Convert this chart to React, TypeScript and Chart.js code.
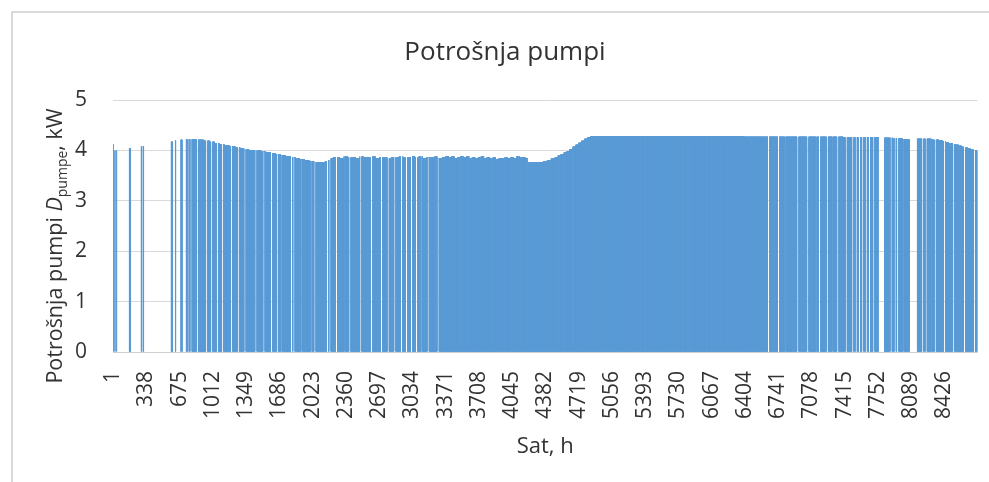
import React, { useEffect, useRef } from 'react';
import { Chart, registerables } from 'chart.js';

Chart.register(...registerables);

// ---------- data ----------
const HOURS = 8760;
const TICK_STEP = 337;
const chartTitle = 'Potrošnja pumpi';
const xTitle = 'Sat, h';
const yTitleMain = 'Potrošnja pumpi ';
const yTitleSymbol = 'D';
const yTitleSub = 'pumpe';
const yTitleUnit = ', kW';

// hourly pump power levels (kW): level holds from the given hour on
const levelStart = [
  1, 10, 100, 250, 500, 620, 680, 740, 860, 920, 980, 1030, 1080, 1130, 1180, 1240, 1290, 1330,
  1380, 1420, 1500, 1550, 1600, 1650, 1700, 1750, 1800, 1850, 1890, 1940, 1990, 2040, 2100, 2150,
  2175, 2200, 2230, 2260, 2300, 2340, 2380, 2420, 2460, 2500, 2540, 2580, 2620, 2660, 2700, 2740,
  2780, 2820, 2860, 2900, 2940, 2980, 3020, 3060, 3100, 3140, 3180, 3220, 3260, 3300, 3340, 3370,
  3400, 3430, 3460, 3490, 3520, 3550, 3580, 3610, 3640, 3670, 3700, 3730, 3760, 3790, 3820, 3850,
  3880, 3910, 3940, 3970, 4000, 4030, 4060, 4090, 4120, 4150, 4180, 4200, 4260, 4320, 4360, 4400,
  4440, 4480, 4510, 4540, 4570, 4600, 4630, 4660, 4690, 4720, 4750, 4780, 4810, 4840, 6400, 7000,
  7400, 7760, 7900, 8000, 8150, 8300, 8370, 8410, 8440, 8470, 8510, 8545, 8570, 8600, 8630, 8660,
  8690, 8720, 8745,
];
const levelValue = [
  4.12, 4.0, 4.05, 4.08, 4.17, 4.2, 4.21, 4.22, 4.21, 4.19, 4.17, 4.14, 4.12, 4.1, 4.08, 4.06, 4.04, 4.02,
  4.01, 4.0, 3.99, 3.97, 3.95, 3.93, 3.91, 3.89, 3.87, 3.85, 3.83, 3.81, 3.79, 3.77, 3.76, 3.78,
  3.81, 3.84, 3.86, 3.87, 3.85, 3.88, 3.86, 3.87, 3.85, 3.88, 3.87, 3.86, 3.88, 3.85, 3.87, 3.86,
  3.84, 3.87, 3.86, 3.88, 3.86, 3.87, 3.89, 3.86, 3.88, 3.85, 3.87, 3.86, 3.88, 3.85, 3.87, 3.89,
  3.86, 3.88, 3.85, 3.87, 3.89, 3.86, 3.88, 3.85, 3.87, 3.84, 3.86, 3.88, 3.85, 3.87, 3.84, 3.86,
  3.83, 3.85, 3.84, 3.86, 3.85, 3.87, 3.85, 3.88, 3.86, 3.87, 3.85, 3.76, 3.76, 3.77, 3.79, 3.81,
  3.84, 3.87, 3.9, 3.93, 3.96, 3.99, 4.03, 4.07, 4.11, 4.15, 4.19, 4.23, 4.26, 4.28, 4.27, 4.27,
  4.26, 4.25, 4.24, 4.22, 4.23, 4.21, 4.2, 4.18, 4.16, 4.14, 4.12, 4.11, 4.09, 4.07, 4.06, 4.04,
  4.02, 4.01, 4.0,
];

// hours when the pump is off (first hour, last hour)
const offRanges: [number, number][] = [
  [5, 18], [23, 35], [40, 164], [181, 285], [291, 304], [313, 589], [607, 631], [638, 687],
  [703, 741], [755, 769],
  [783, 799], [847, 863], [942, 958], [993, 1009], [1050, 1066], [1104, 1120], [1195, 1211],
  [1262, 1278], [1330, 1346], [1441, 1457], [1522, 1538], [1600, 1616], [1657, 1673], [1705, 1713],
  [1803, 1819], [1826, 1842], [1908, 1916], [2009, 2017], [2039, 2055], [2167, 2183], [2191, 2207],
  [2258, 2274], [2346, 2354], [2393, 2409], [2504, 2520], [2613, 2629], [2714, 2730], [2781, 2797],
  [2849, 2865], [2917, 2933], [2967, 2983], [3018, 3034], [3069, 3085], [3123, 3131], [3186, 3202],
  [3287, 3303],
  [6636, 6652], [6737, 6753], [6809, 6817], [6933, 6949], [7034, 7050], [7123, 7131], [7153, 7169],
  [7231, 7247], [7291, 7299], [7338, 7354], [7423, 7439], [7490, 7506], [7524, 7540], [7558, 7574],
  [7591, 7607], [7626, 7642], [7659, 7675], [7703, 7719], [7757, 7818], [7878, 7894], [7919, 7935],
  [7945, 7961], [8010, 8018], [8072, 8150], [8199, 8215], [8233, 8249], [8288, 8296], [8325, 8341],
  [8418, 8434], [8513, 8529], [8621, 8637], [8722, 8738],
];

const yTicks = [0, 1, 2, 3, 4, 5];

// ---------- build the hourly table ----------
const hourLabels: string[] = Array.from({ length: HOURS }, (_, i) => String(i + 1));

function buildSeries(): number[] {
  const vals: number[] = new Array(HOURS);
  let k = 0;
  for (let h = 1; h <= HOURS; h++) {
    while (k + 1 < levelStart.length && levelStart[k + 1] <= h) k++;
    vals[h - 1] = levelValue[k];
  }
  for (const [a, b] of offRanges) {
    for (let h = a; h <= b; h++) vals[h - 1] = 0;
  }
  return vals;
}

const TEXT = '#333333';
const FONT = '"Open Sans", "Noto Sans", sans-serif';

const yTitlePlugin = {
  id: 'yTitleRich',
  afterDraw(chart: any) {
    const ctx = chart.ctx as CanvasRenderingContext2D;
    const S = 21.5;
    const parts = [
      { t: yTitleMain, f: `${S}px ${FONT}`, dy: 0 },
      { t: yTitleSymbol, f: `italic ${S}px ${FONT}`, dy: 0 },
      { t: yTitleSub, f: `${Math.round(S * 0.66)}px ${FONT}`, dy: 5 },
      { t: yTitleUnit, f: `${S}px ${FONT}`, dy: 0 },
    ];
    ctx.save();
    let total = 0;
    const widths: number[] = [];
    for (const p of parts) {
      ctx.font = p.f;
      const w = ctx.measureText(p.t).width;
      widths.push(w);
      total += w;
    }
    ctx.translate(62, 246);
    ctx.rotate(-Math.PI / 2);
    ctx.fillStyle = TEXT;
    ctx.textBaseline = 'alphabetic';
    ctx.textAlign = 'left';
    let x = -total / 2;
    parts.forEach((p, i) => {
      ctx.font = p.f;
      ctx.fillText(p.t, x, p.dy);
      x += widths[i];
    });
    ctx.restore();
  },
};

export default function App() {
  const ref = useRef<HTMLCanvasElement | null>(null);

  useEffect(() => {
    if (!ref.current) return;
    const data = buildSeries();
    const chart = new Chart(ref.current, {
      type: 'bar',
      data: {
        labels: hourLabels,
        datasets: [
          {
            data,
            backgroundColor: '#5b9bd5',
            borderWidth: 0,
            barThickness: 0.7,
            inflateAmount: 0,
          },
        ],
      },
      options: {
        animation: false,
        responsive: false,
        devicePixelRatio: 1,
        layout: { padding: { left: 32, right: 11, top: 0, bottom: 0 } },
        plugins: {
          legend: { display: false },
          tooltip: { enabled: false },
          title: {
            display: true,
            text: chartTitle,
            color: TEXT,
            font: { family: FONT, size: 26, weight: 'normal', lineHeight: 1.2 },
            padding: { top: 37, bottom: 31.8 },
          },
        },
        scales: {
          x: {
            grid: { display: false, drawTicks: false },
            border: { display: true, color: '#d0d0d0', width: 1 },
            ticks: {
              autoSkip: false,
              minRotation: 90,
              maxRotation: 90,
              padding: 19,
              color: TEXT,
              font: { family: FONT, size: 21 },
              callback: (_v: any, i: number) => (i % TICK_STEP === 0 ? hourLabels[i] : null),
            },
            title: {
              display: true,
              text: xTitle,
              color: TEXT,
              font: { family: FONT, size: 22 },
              padding: { top: 0, bottom: 22 },
            },
            afterFit: (s: any) => {
              s.height = 130;
            },
          },
          y: {
            min: 0,
            max: 5,
            afterBuildTicks: (s: any) => {
              s.ticks = yTicks.map((v) => ({ value: v }));
            },
            grid: { color: '#d9d9d9', lineWidth: 1, drawTicks: false },
            border: { display: false },
            ticks: {
              padding: 26,
              color: TEXT,
              font: { family: FONT, size: 21 },
            },
            afterFit: (s: any) => {
              s.width = 81;
            },
          },
        },
      },
      plugins: [yTitlePlugin],
    });
    return () => chart.destroy();
  }, []);

  return (
    <div style={{ position: 'absolute', left: 0, top: 0, width: 989, height: 482, background: '#fff', overflow: 'hidden' }}>
      <div
        style={{
          position: 'absolute',
          left: 11,
          top: 11,
          width: 1000,
          height: 500,
          borderLeft: '2px solid #d9d9d9',
          borderTop: '2px solid #d9d9d9',
        }}
      />
      <canvas ref={ref} width={989} height={482} style={{ position: 'absolute', left: 0, top: 0 }} />
    </div>
  );
}
